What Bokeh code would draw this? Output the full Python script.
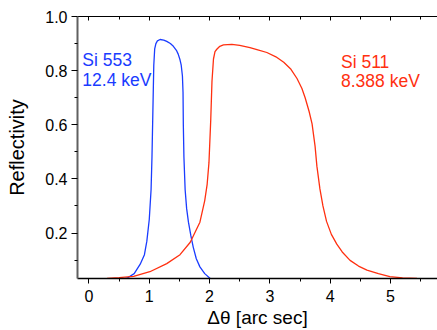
from bokeh.plotting import figure
from bokeh.models import (LinearAxis, FixedTicker, Label, Range1d, NumeralTickFormatter,
                          CustomLabelingPolicy)
from bokeh.embed import file_html
from bokeh.resources import INLINE

# Si 553 @ 12.4 keV (blue)
si553_x = [0.55, 0.63, 0.75, 0.85, 0.92, 0.96, 1.00, 1.03, 1.045, 1.06, 1.075, 1.09, 1.11,
           1.135, 1.18, 1.24, 1.29, 1.35, 1.40, 1.45, 1.48, 1.51, 1.53, 1.55, 1.56, 1.565,
           1.575, 1.595, 1.62, 1.65, 1.69, 1.73, 1.78, 1.84, 1.92, 2.01]
si553_y = [0.030, 0.033, 0.050, 0.085, 0.12, 0.17, 0.25, 0.36, 0.48, 0.65, 0.82, 0.88, 0.90,
           0.910, 0.915, 0.913, 0.908, 0.900, 0.890, 0.875, 0.861, 0.840, 0.820, 0.780, 0.720, 0.600,
           0.480, 0.360, 0.290, 0.240, 0.190, 0.147, 0.105, 0.075, 0.050, 0.032]

# Si 511 @ 8.388 keV (red)
si511_x = [0.30, 0.50, 0.74, 1.01, 1.29, 1.51, 1.68, 1.84, 1.92, 1.96, 1.99, 2.02, 2.04, 2.065,
           2.09, 2.12, 2.17, 2.23, 2.37, 2.50, 2.67, 2.80, 2.95, 3.10, 3.23, 3.35, 3.45, 3.53,
           3.585, 3.65, 3.70, 3.75, 3.78, 3.83, 3.88, 3.94, 4.02, 4.11, 4.20, 4.33, 4.47, 4.61,
           4.80, 4.99, 5.20, 5.44]
si511_y = [0.032, 0.035, 0.040, 0.057, 0.087, 0.120, 0.166, 0.240, 0.320, 0.380, 0.460, 0.620, 0.760, 0.843,
           0.870, 0.879, 0.890, 0.895, 0.897, 0.893, 0.885, 0.877, 0.867, 0.851, 0.831, 0.805, 0.771, 0.735,
           0.700, 0.650, 0.603, 0.520, 0.447, 0.363, 0.300, 0.243, 0.195, 0.159, 0.130, 0.099, 0.078, 0.063,
           0.050, 0.039, 0.034, 0.032]

x_ticks = [0, 1, 2, 3, 4, 5]
x_minor = [-0.5, 0.5, 1.5, 2.5, 3.5, 4.5, 5.5]
y_ticks = [0.2, 0.4, 0.6, 0.8, 1.0]
y_minor = [0.1, 0.3, 0.5, 0.7, 0.9]

BLUE = "#1a3cff"
RED = "#ff3010"
FONT = "Liberation Sans"

p = figure(width=437, height=330, output_backend="svg", toolbar_location=None,
           x_range=Range1d(-0.19, 5.78), y_range=Range1d(0.032, 1.0),
           min_border_left=77, min_border_right=0, min_border_top=16, min_border_bottom=45,
           x_axis_label="Δθ [arc sec]", y_axis_label="Reflectivity")
p.grid.visible = False
p.outline_line_color = None
p.background_fill_color = "white"
p.border_fill_color = "white"

p.line(si553_x, si553_y, line_color=BLUE, line_width=1.3)
p.line(si511_x, si511_y, line_color=RED, line_width=1.3)

xa = p.xaxis[0]
xa.ticker = FixedTicker(ticks=x_ticks, minor_ticks=x_minor)
xa.major_tick_in = 0
xa.major_tick_out = 5
xa.minor_tick_in = 0
xa.minor_tick_out = 3
xa.axis_line_width = 1.5
xa.axis_line_color = "black"
xa.major_tick_line_color = "black"
xa.minor_tick_line_color = "black"
xa.major_label_text_font = FONT
xa.major_label_text_font_size = "16px"
xa.major_label_text_color = "black"
xa.major_label_standoff = 6
xa.axis_label_text_font = FONT
xa.axis_label_text_font_size = "19px"
xa.axis_label_text_font_style = "normal"
xa.axis_label_text_color = "black"
xa.axis_label_standoff = 2

ya = p.yaxis[0]
ya.ticker = FixedTicker(ticks=y_ticks, minor_ticks=y_minor)
ya.formatter = NumeralTickFormatter(format="0.0")
ya.major_tick_in = 0
ya.major_tick_out = 6
ya.minor_tick_in = 0
ya.minor_tick_out = 3
ya.axis_line_width = 2
ya.axis_line_color = "#606060"
ya.major_tick_line_color = "black"
ya.minor_tick_line_color = "black"
ya.major_label_text_font = FONT
ya.major_label_text_font_size = "16px"
ya.major_label_text_color = "black"
ya.major_label_standoff = 4
ya.axis_label_text_font = FONT
ya.axis_label_text_font_size = "20px"
ya.axis_label_text_font_style = "normal"
ya.axis_label_text_color = "black"
ya.axis_label_standoff = 14

top = LinearAxis(ticker=FixedTicker(ticks=x_ticks, minor_ticks=x_minor),
                 major_label_policy=CustomLabelingPolicy(code=""),
                 major_tick_in=4, major_tick_out=0,
                 minor_tick_in=3, minor_tick_out=0, axis_line_color="black", axis_line_width=1.2,
                 major_tick_line_color="black", minor_tick_line_color="black",
                 major_label_standoff=0)
p.add_layout(top, "above")

for txt, x, y, c in [("Si 553", -0.11, 0.84, BLUE), ("12.4 keV", -0.11, 0.764, BLUE),
                     ("Si 511", 4.18, 0.832, RED), ("8.388 keV", 4.18, 0.760, RED)]:
    p.add_layout(Label(x=x, y=y, text=txt, text_color=c, text_font=FONT,
                       text_font_size="17.5px", text_baseline="alphabetic", text_align="left"))

open("out.html", "w").write(file_html(p, INLINE))
